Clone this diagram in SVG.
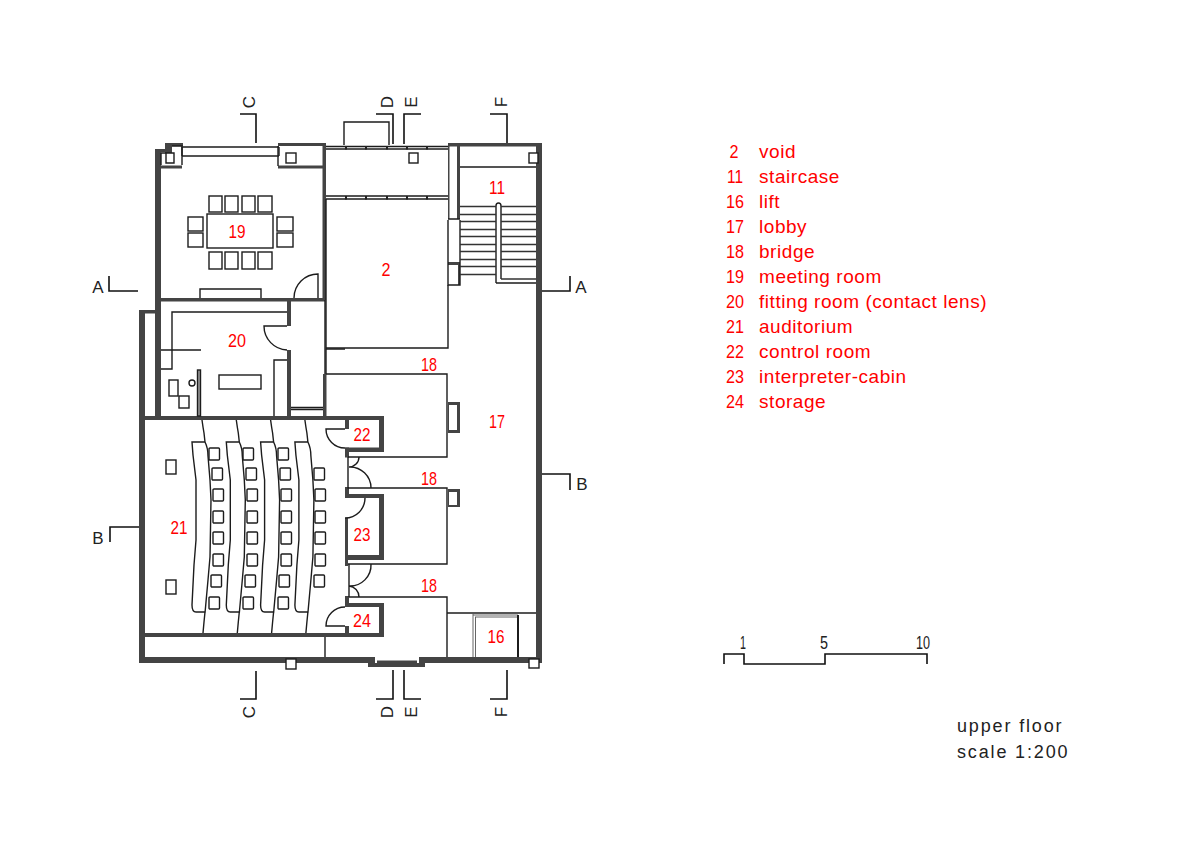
<svg xmlns="http://www.w3.org/2000/svg" xmlns:xlink="http://www.w3.org/1999/xlink" width="1200" height="849" viewBox="0 0 1200 849">
<style>
.w{fill:#444;stroke:none}
.l{fill:none;stroke:#1c1c1c;stroke-width:1.4}
.lw{fill:#fff;stroke:#1c1c1c;stroke-width:1.4}
.th{fill:none;stroke:#555;stroke-width:.9}
.tr{fill:none;stroke:#333;stroke-width:1.3}
.m{fill:none;stroke:#111;stroke-width:1.6}
.gap{fill:#fff;stroke:none}
text{font-family:"Liberation Sans",Arial,sans-serif}
.r{fill:#f00;font-size:19px;text-anchor:middle}
.t{fill:#f00;font-size:19px;letter-spacing:.55px}
.k{fill:#222;font-size:17px;text-anchor:middle}
.s{fill:#222;font-size:18px;text-anchor:middle}
.n{fill:#222;font-size:18px;letter-spacing:1.85px}
</style>
<defs>
<path id="tier" class="l" d="M202 420L203 427L204 433L205 442H192L193 455L196 480L196 540L194 565L192 605Q192 612 196 612H205L204 622L203 633M205 442Q208 448 208 456L210 480L211 500L210 557L208 580L205 613"/>
<rect id="seat" class="l" x="0" y="0" width="10.500" height="12" rx="1"/>
<rect id="tick" x="0" y="0" width="2" height="3.500" fill="#222"/>
</defs>
<rect width="1200" height="849" fill="#fff"/>

<g id="walls">
<rect class="w" x="139" y="310" width="6" height="353"/>
<rect class="w" x="139" y="310" width="16" height="3.500"/>
<rect class="w" x="155" y="149" width="6" height="269"/>
<rect class="w" x="155" y="149" width="11" height="3"/>
<rect class="w" x="165" y="143" width="18" height="3"/>
<rect class="w" x="165" y="143" width="7" height="10"/>
<rect class="w" x="278" y="143" width="48" height="3"/>
<rect class="w" x="322.500" y="143" width="3.500" height="157"/>
<rect class="w" x="161" y="165.500" width="21" height="3"/>
<rect class="w" x="278" y="165.500" width="45" height="3"/>
<rect class="w" x="448" y="143" width="94" height="3.500"/>
<rect class="w" x="536" y="143" width="6" height="520"/>
<rect class="w" x="139" y="657" width="403" height="6"/>
<rect class="w" x="368" y="663" width="57" height="4"/>
<rect class="gap" x="375" y="657" width="44" height="3.500"/>
<rect class="gap" x="375" y="660" width="2" height="3"/>
<rect class="gap" x="417" y="660" width="2" height="3"/>
<rect class="w" x="161" y="298" width="164" height="3.500"/>
<rect class="w" x="287" y="299" width="4" height="27"/>
<rect class="w" x="287" y="350" width="4" height="68"/>
<rect class="w" x="145" y="416" width="239" height="4"/>
<rect class="w" x="323" y="374" width="3.500" height="43"/>
<rect class="w" x="145" y="633" width="239" height="4"/>
<rect class="w" x="379" y="416" width="5" height="36"/>
<rect class="w" x="345" y="447.500" width="39" height="4.500"/>
<rect class="w" x="345" y="420" width="4" height="9"/>
<rect class="w" x="345" y="447.500" width="4" height="10"/>
<rect class="w" x="345" y="487" width="4" height="11"/>
<rect class="w" x="345" y="494" width="39" height="4"/>
<rect class="w" x="379" y="494" width="5" height="66"/>
<rect class="w" x="345" y="555" width="39" height="5"/>
<rect class="w" x="345" y="518" width="3" height="48"/>
<rect class="w" x="345" y="596" width="4" height="11"/>
<rect class="w" x="345" y="603" width="39" height="4"/>
<rect class="w" x="379" y="603" width="5" height="34"/>
<rect class="w" x="345" y="626" width="4" height="8"/>
<rect class="lw" x="286" y="659" width="10" height="10"/>
<rect class="lw" x="529" y="659" width="10" height="9"/>
<rect class="lw" x="529" y="153" width="9" height="10"/>
</g>

<g id="window-north" class="l">
<path d="M182 147H279M182 156H279M182 147V156M279 147V156"/>
<path d="M172 146H182V165M161 153V165M161 153H174V163H166V153"/>
<rect x="286" y="153" width="10" height="10"/>
<path d="M278 146V166"/>
</g>

<g id="room-19">
<g class="l">
<rect x="207" y="214" width="66" height="34"/>
<rect x="209" y="196" width="13" height="16"/>
<rect x="225" y="196" width="13" height="16"/>
<rect x="242" y="196" width="13" height="16"/>
<rect x="258" y="196" width="14" height="16"/>
<rect x="209" y="252" width="13" height="17"/>
<rect x="225" y="252" width="13" height="17"/>
<rect x="242" y="252" width="13" height="17"/>
<rect x="258" y="252" width="14" height="17"/>
<rect x="188" y="217" width="15" height="14"/>
<rect x="188" y="233" width="15" height="14"/>
<rect x="277" y="217" width="16" height="14"/>
<rect x="277" y="233" width="16" height="14"/>
<path d="M200 298V289H261V298"/>
<path d="M294 298A24 24 0 0 1 318 274V298"/>
</g>
<text class="r" x="237" y="238" textLength="17" lengthAdjust="spacingAndGlyphs">19</text>
</g>

<g id="room-20">
<g class="l">
<path d="M287 312H172V369H161M161 350H201"/>
<path d="M287 326H264A24 24 0 0 0 287 350"/>
<path d="M287 360H274V416"/>
<rect x="219" y="375" width="42" height="14"/>
<rect x="197.500" y="370" width="3" height="46" fill="#999"/>
<circle cx="192" cy="383" r="3"/>
<rect x="169" y="380" width="9" height="16"/>
<rect x="179" y="396" width="10" height="12"/>
<path d="M291 407.500H323M291 409.500H323M325 300V374M326 349H345"/>
</g>
<text class="r" x="237" y="347" textLength="18" lengthAdjust="spacingAndGlyphs">20</text>
</g>

<g id="room-21">
<use xlink:href="#tier"/>
<use xlink:href="#tier" x="34.300"/>
<use xlink:href="#tier" x="68.600"/>
<use xlink:href="#tier" x="102.900"/>
<rect class="l" x="166" y="460" width="10" height="14"/>
<rect class="l" x="166" y="580" width="10" height="14"/>
<g id="seats">
<use xlink:href="#seat" x="209" y="448"/><use xlink:href="#seat" x="243" y="448"/><use xlink:href="#seat" x="278" y="448"/>
<use xlink:href="#seat" x="212" y="468"/><use xlink:href="#seat" x="246" y="468"/><use xlink:href="#seat" x="280" y="468"/><use xlink:href="#seat" x="314" y="468"/>
<use xlink:href="#seat" x="213" y="489"/><use xlink:href="#seat" x="247" y="489"/><use xlink:href="#seat" x="281" y="489"/><use xlink:href="#seat" x="315" y="489"/>
<use xlink:href="#seat" x="213" y="511"/><use xlink:href="#seat" x="247" y="511"/><use xlink:href="#seat" x="281" y="511"/><use xlink:href="#seat" x="315" y="511"/>
<use xlink:href="#seat" x="213" y="532"/><use xlink:href="#seat" x="247" y="532"/><use xlink:href="#seat" x="281" y="532"/><use xlink:href="#seat" x="315" y="532"/>
<use xlink:href="#seat" x="213" y="554"/><use xlink:href="#seat" x="247" y="554"/><use xlink:href="#seat" x="281" y="554"/><use xlink:href="#seat" x="315" y="554"/>
<use xlink:href="#seat" x="211" y="575"/><use xlink:href="#seat" x="245" y="575"/><use xlink:href="#seat" x="279" y="575"/><use xlink:href="#seat" x="314" y="575"/>
<use xlink:href="#seat" x="209" y="597"/><use xlink:href="#seat" x="243" y="597"/><use xlink:href="#seat" x="278" y="597"/>
</g>
<path class="l" d="M325 637V657"/>
<text class="r" x="179" y="534" textLength="17" lengthAdjust="spacingAndGlyphs">21</text>
</g>

<g id="room-22">
<path class="l" d="M345 429H326A19 19 0 0 0 345 448"/>
<text class="r" x="362" y="441" textLength="17" lengthAdjust="spacingAndGlyphs">22</text>
</g>
<g id="room-23">
<path class="l" d="M345 518A20 20 0 0 0 365 498"/>
<text class="r" x="362" y="541" textLength="17" lengthAdjust="spacingAndGlyphs">23</text>
</g>
<g id="room-24">
<path class="l" d="M345 607A19 19 0 0 0 326 626H345"/>
<text class="r" x="362" y="627" textLength="18" lengthAdjust="spacingAndGlyphs">24</text>
</g>

<g id="room-2">
<g class="l">
<path d="M326 146.500H448M326 149H448M326 196H448M326 199H448"/>
<path d="M344 145V122H389V145"/>
<rect x="409" y="153" width="9" height="10"/>
<path d="M448 285V348H326M326 199V374"/>
</g>
<g id="mullions">
<use xlink:href="#tick" x="345" y="146"/><use xlink:href="#tick" x="365" y="146"/><use xlink:href="#tick" x="386" y="146"/><use xlink:href="#tick" x="406" y="146"/><use xlink:href="#tick" x="426" y="146"/>
<use xlink:href="#tick" x="345" y="196"/><use xlink:href="#tick" x="365" y="196"/><use xlink:href="#tick" x="386" y="196"/><use xlink:href="#tick" x="406" y="196"/><use xlink:href="#tick" x="426" y="196"/>
</g>
<text class="r" x="386" y="276" textLength="9" lengthAdjust="spacingAndGlyphs">2</text>
</g>

<g id="room-11">
<rect class="w" x="448" y="146" width="1.500" height="73"/>
<rect class="w" x="457" y="146" width="3" height="73"/>
<rect class="w" x="448" y="262" width="12" height="3"/>
<rect class="w" x="458" y="262" width="2" height="23"/>
<g class="l">
<path d="M448 219H460M448 220V285H460V220M460 167H536"/>
<path d="M496 283V206Q496 203 498.500 203Q501 203 501 206V279M496 283H536"/>
</g>
<g class="tr">
<path d="M460 206.500H496M460 214.500H496M460 221.500H496M460 229.500H496M460 236.500H496M460 244.500H496M460 251.500H496M460 259.500H496M460 266.500H496M460 274.500H496"/>
<path d="M501 206.500H536M501 214.500H536M501 221.500H536M501 229.500H536M501 236.500H536M501 244.500H536M501 251.500H536M501 259.500H536M501 266.500H536M501 279H536"/>
</g>
<text class="r" x="497" y="194" textLength="16" lengthAdjust="spacingAndGlyphs">11</text>
</g>

<g id="room-17">
<g class="l">
<path d="M326 374H447V457H348M348 457V488H447V564H348M349 597H447V657"/>
<path d="M349 467A10 10 0 0 0 359 457M349 467A21 21 0 0 1 371 488"/>
<path d="M371 564A21 21 0 0 1 349 586M349 586A11 11 0 0 1 359 597M349 564V597"/>
</g>
<rect class="w" x="448" y="402" width="12" height="31"/>
<rect class="gap" x="449" y="405" width="8" height="25"/>
<rect class="w" x="448" y="489" width="12" height="18"/>
<rect class="gap" x="449" y="492" width="8" height="13"/>
<text class="r" x="497" y="428" textLength="16" lengthAdjust="spacingAndGlyphs">17</text>
<text class="r" x="429" y="371" textLength="16" lengthAdjust="spacingAndGlyphs">18</text>
<text class="r" x="429" y="485" textLength="16" lengthAdjust="spacingAndGlyphs">18</text>
<text class="r" x="429" y="592" textLength="16" lengthAdjust="spacingAndGlyphs">18</text>
</g>

<g id="room-16">
<g class="th">
<path d="M473 614V657M475.500 617V657M473 615H518M475 617H518"/>
</g>
<g class="l">
<path d="M447 613H536"/>
<path d="M518 615V657" stroke-width="2"/>
</g>
<text class="r" x="496" y="643" textLength="17" lengthAdjust="spacingAndGlyphs">16</text>
</g>

<g id="section-marks">
<path class="m" d="M240 114H256V143M376 114H393V144M421 114H404V144M490 114H507V143"/>
<path class="m" d="M240 699H256V671M376 699H393V670M421 699H404V670M490 699H507V670"/>
<path class="m" d="M109 276V291H138M570 276V291H542"/>
<path class="m" d="M110 542V527H139M570 490V474H542"/>
<g class="k">
<text transform="translate(255 102) rotate(-90)" x="0">C</text>
<text transform="translate(393 102) rotate(-90)" x="0">D</text>
<text transform="translate(417 102) rotate(-90)" x="0">E</text>
<text transform="translate(507 102) rotate(-90)" x="0">F</text>
<text transform="translate(255 712) rotate(-90)" x="0">C</text>
<text transform="translate(393 712) rotate(-90)" x="0">D</text>
<text transform="translate(417 712) rotate(-90)" x="0">E</text>
<text transform="translate(507 712) rotate(-90)" x="0">F</text>
<text x="98" y="293">A</text>
<text x="581" y="293">A</text>
<text x="98" y="544">B</text>
<text x="582" y="490">B</text>
</g>
</g>

<g id="legend">
<text class="r" x="734" y="158" textLength="9" lengthAdjust="spacingAndGlyphs">2</text><text class="t" x="759" y="158">void</text>
<text class="r" x="735" y="183" textLength="16" lengthAdjust="spacingAndGlyphs">11</text><text class="t" x="759" y="183">staircase</text>
<text class="r" x="735" y="208" textLength="18" lengthAdjust="spacingAndGlyphs">16</text><text class="t" x="759" y="208">lift</text>
<text class="r" x="735" y="233" textLength="18" lengthAdjust="spacingAndGlyphs">17</text><text class="t" x="759" y="233">lobby</text>
<text class="r" x="735" y="258" textLength="18" lengthAdjust="spacingAndGlyphs">18</text><text class="t" x="759" y="258">bridge</text>
<text class="r" x="735" y="283" textLength="18" lengthAdjust="spacingAndGlyphs">19</text><text class="t" x="759" y="283">meeting room</text>
<text class="r" x="735" y="308" textLength="18" lengthAdjust="spacingAndGlyphs">20</text><text class="t" x="759" y="308">fitting room (contact lens)</text>
<text class="r" x="735" y="333" textLength="18" lengthAdjust="spacingAndGlyphs">21</text><text class="t" x="759" y="333">auditorium</text>
<text class="r" x="735" y="358" textLength="18" lengthAdjust="spacingAndGlyphs">22</text><text class="t" x="759" y="358">control room</text>
<text class="r" x="735" y="383" textLength="18" lengthAdjust="spacingAndGlyphs">23</text><text class="t" x="759" y="383">interpreter-cabin</text>
<text class="r" x="735" y="408" textLength="18" lengthAdjust="spacingAndGlyphs">24</text><text class="t" x="759" y="408">storage</text>
</g>

<g id="scale-bar">
<path class="m" d="M724 664V654H744V664H825V654H927V664"/>
<text class="s" x="743" y="649" textLength="6" lengthAdjust="spacingAndGlyphs">1</text>
<text class="s" x="824" y="649" textLength="8" lengthAdjust="spacingAndGlyphs">5</text>
<text class="s" x="923" y="649" textLength="14" lengthAdjust="spacingAndGlyphs">10</text>
</g>

<g id="title">
<text class="n" x="957" y="732">upper floor</text>
<text class="n" x="957" y="758">scale 1:200</text>
</g>
</svg>
